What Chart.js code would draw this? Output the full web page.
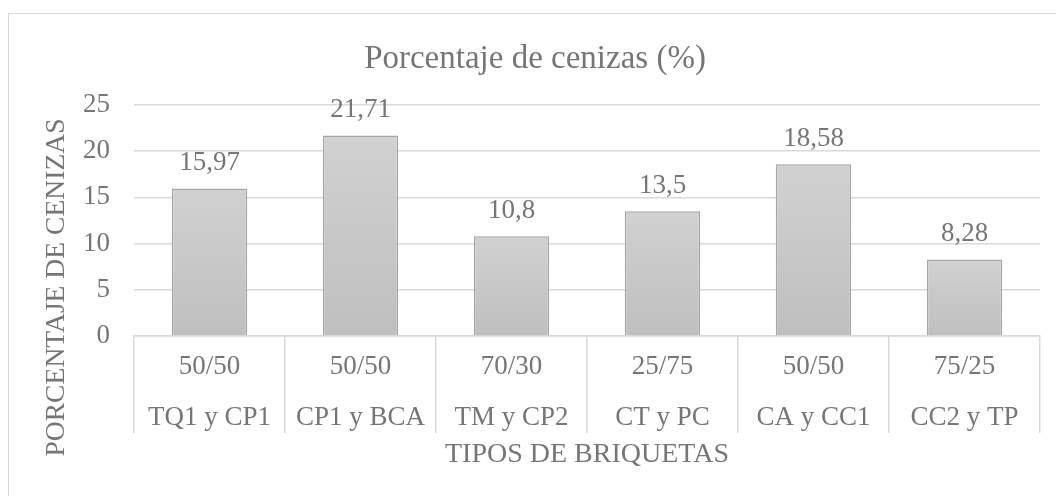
<!DOCTYPE html>
<html>
<head>
<meta charset="utf-8">
<script src="https://cdn.jsdelivr.net/npm/chart.js@4.4.0/dist/chart.umd.min.js"></script>
<style>
    html, body { margin: 0; padding: 0; background: #ffffff; overflow: hidden; }
    #frame {
        position: absolute; left: 8px; top: 13px;
        width: 1100px; height: 600px;
        border: 1.5px solid #d9d9d9; box-sizing: border-box;
    }
    #wrap { position: absolute; left: 0; top: 0; width: 1056px; height: 496px; }
</style>
</head>
<body>
<div id="frame"></div>
<div id="wrap"><canvas id="chart-cenizas" width="1056" height="496"></canvas></div>
<script>
// datos del grafico
const proporciones = ["50/50", "50/50", "70/30", "25/75", "50/50", "75/25"];
const mezclas = ["TQ1 y CP1", "CP1 y BCA", "TM y CP2", "CT y PC", "CA y CC1", "CC2 y TP"];
const cenizas = [15.97, 21.71, 10.8, 13.5, 18.58, 8.28];
const yMin = 0;
const yMax = 25;
const yStep = 5;

const tituloGrafico = "Porcentaje de cenizas (%)";
const tituloY = "PORCENTAJE DE CENIZAS";
const tituloX = "TIPOS DE BRIQUETAS";

const textColor = "#767676";
const gridColor = "#d9d9d9";
const fontName = "'Liberation Serif', 'Times New Roman', serif";

// etiquetas de dos niveles: proporcion arriba, mezcla abajo
let etiquetas = [];
for (let i = 0; i < proporciones.length; i++) {
    etiquetas[i] = [proporciones[i], mezclas[i]];
}

function barFill(context) {
    "use strict";
    let chart = context.chart;
    if (!chart.chartArea || context.type !== "data") {
        return "#c8c8c8";
    }
    let yScale = chart.scales.y;
    let top = yScale.getPixelForValue(context.raw);
    let base = yScale.getPixelForValue(0);
    let grad = chart.ctx.createLinearGradient(0, top, 0, base);
    grad.addColorStop(0, "#d1d1d1");
    grad.addColorStop(1, "#bfbfbf");
    return grad;
}

// valores encima de cada barra
const etiquetasValor = {
    id: "etiquetasValor",
    afterDatasetsDraw(chart) {
        let ctx = chart.ctx;
        let meta = chart.getDatasetMeta(0);
        ctx.save();
        ctx.font = "27px " + fontName;
        ctx.fillStyle = textColor;
        ctx.textAlign = "center";
        ctx.textBaseline = "alphabetic";
        meta.data.forEach(function (bar, i) {
            let texto = String(cenizas[i]).replace(".", ",");
            ctx.fillText(texto, bar.x, bar.y - 18);
        });
        ctx.restore();
    }
};

// titulo del grafico y titulo del eje vertical
const titulos = {
    id: "titulos",
    afterDraw(chart) {
        let ctx = chart.ctx;
        let area = chart.chartArea;
        let xScale = chart.scales.x;

        ctx.save();
        ctx.fillStyle = textColor;
        ctx.textAlign = "center";
        ctx.textBaseline = "middle";

        ctx.font = "33px " + fontName;
        ctx.fillText(tituloGrafico, (area.left + area.right) / 2 - 52, area.top - 46);

        let cy = (area.top + xScale.bottom - 26) / 2;
        ctx.font = "27.6px " + fontName;
        ctx.translate(57, cy);
        ctx.rotate(-Math.PI / 2);
        ctx.fillText(tituloY, 0, 0);
        ctx.restore();
    }
};

let canvas = document.getElementById("chart-cenizas");

let myChart = new Chart(canvas, {
    "type": "bar",
    "data": {
        "labels": etiquetas,
        "datasets": [{
            "label": tituloGrafico,
            "data": cenizas,
            "backgroundColor": barFill,
            "borderColor": "#a6a6a6",
            "borderWidth": 1.5,
            "barPercentage": 0.5,
            "categoryPercentage": 1
        }]
    },
    "options": {
        responsive: false,
        animation: false,
        layout: { padding: { left: 0, right: 16, top: 105, bottom: 0 } },
        plugins: {
            legend: { display: false },
            tooltip: { enabled: false },
            title: { display: false }
        },
        scales: {
            x: {
                offset: true,
                grid: {
                    display: true,
                    offset: true,
                    drawOnChartArea: false,
                    drawTicks: true,
                    tickLength: 97,
                    color: gridColor,
                    lineWidth: 1.5
                },
                border: { display: true, color: gridColor, width: 1.5 },
                ticks: {
                    color: textColor,
                    font: { family: fontName, size: 27, lineHeight: 1.89 },
                    padding: -91.5,
                    maxRotation: 0,
                    autoSkip: false
                },
                title: {
                    display: true,
                    text: tituloX,
                    color: textColor,
                    font: { family: fontName, size: 28, lineHeight: 1.2 },
                    padding: { top: 0, bottom: 25 }
                },
                afterFit: function (scale) {
                    scale.height = 160;
                }
            },
            y: {
                min: yMin,
                max: yMax,
                grid: {
                    color: gridColor,
                    lineWidth: 1.5,
                    drawTicks: false
                },
                border: { display: false },
                ticks: {
                    stepSize: yStep,
                    color: textColor,
                    padding: 24,
                    font: { family: fontName, size: 27 }
                },
                afterFit: function (scale) {
                    scale.width = 134;
                }
            }
        }
    },
    plugins: [etiquetasValor, titulos]
});
</script>
</body>
</html>
